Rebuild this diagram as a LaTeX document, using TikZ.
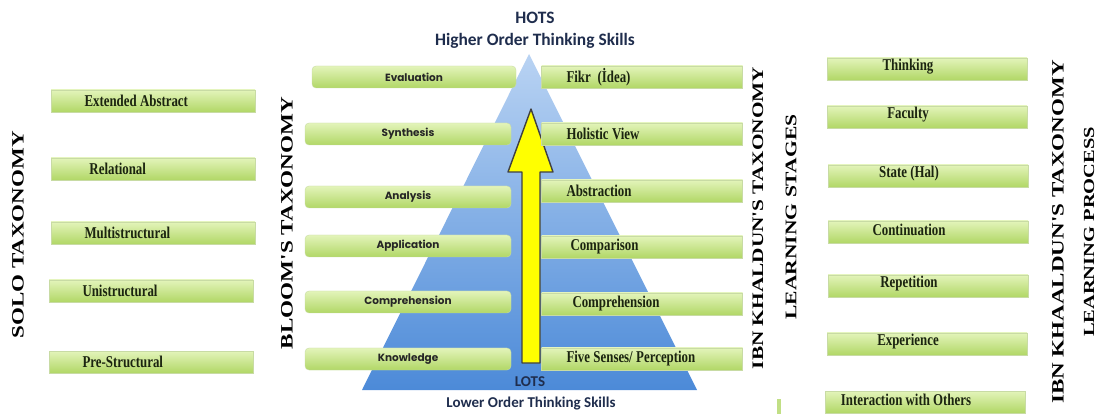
\documentclass[tikz,border=0pt]{standalone}
\usepackage{fontspec}
\setmainfont{Liberation Serif}
\newfontfamily\narrowserif[FakeStretch=0.78]{Liberation Serif}
\newfontfamily\tallserif[FakeStretch=1.33]{Liberation Serif}
\newfontfamily\calibri{Carlito}
\newfontfamily\gothic{Poppins}
\newcommand\boxserif{\narrowserif\bfseries\fontsize{16.5}{18}\selectfont}
\newcommand\tightspace{\spaceskip=3.4pt plus 1pt\relax\xspaceskip=3.4pt plus 1pt\relax}

\definecolor{boxtop}{HTML}{E3F4BA}
\definecolor{boxbot}{HTML}{B1D766}
\definecolor{boxline}{HTML}{C8DBA4}
\definecolor{boxtext}{HTML}{1B2410}
\definecolor{pyrtop}{HTML}{B9D3F3}
\definecolor{pyrbot}{HTML}{4C8AD8}
\definecolor{navy}{HTML}{1F2D4D}
\definecolor{arrowyellow}{HTML}{FFFF00}

\begin{document}
\begin{tikzpicture}[x=1pt, y=-1pt,
    greenbox/.style={rectangle, top color=boxtop, bottom color=boxbot, draw=boxline,
        line width=0.4pt, minimum height=22pt, inner sep=0pt, text=boxtext},
    serifbox/.style={greenbox, font=\boxserif, execute at begin node=\tightspace},
    solobox/.style={serifbox, minimum width=204pt, text width=137pt, align=left},
    stagebox/.style={serifbox, minimum width=201pt, text width=151pt, align=left},
    procbox/.style={greenbox, minimum width=200pt},
    proctext/.style={font=\boxserif, text=boxtext, xshift=-19pt, yshift=2pt, inner sep=0pt},
    bloombox/.style={greenbox, rounded corners=4pt, minimum width=206pt,
        font=\gothic\bfseries\fontsize{10.5}{12}\selectfont, text=black!85},
    vtitle/.style={rotate=90, inner sep=0pt, text=black,
        font=\tallserif\bfseries\fontsize{#1}{#1}\selectfont},
    hotstext/.style={font=\calibri\bfseries\fontsize{#1}{#1}\selectfont, text=navy, inner sep=0pt}]
    \useasboundingbox (0,0) rectangle (1096,414);

    % --- pyramid and the yellow arrow ---
    \shade[top color=pyrtop, bottom color=pyrbot] (529,54) -- (697,390) -- (362,390) -- cycle;
    \filldraw[fill=arrowyellow, draw=black!75, line width=1.4pt, line join=round]
        (522,363) -- (522,172) -- (508,172) -- (531,109) -- (553,172)
        -- (540,172) -- (540,363) -- cycle;

    \node[hotstext=17.4] (hots) at (535,18) {HOTS};
    \node[hotstext=17.4] (hotslong) at (535,41) {Higher Order Thinking Skills};
    \node[hotstext=15] (lots) at (530,382) {LOTS};
    \node[hotstext=15] (lotslong) at (531,404) {Lower Order Thinking Skills};

    % --- SOLO ---
    \node[vtitle=17.3] (solo) at (18,235) {SOLO TAXONOMY};
    \node[solobox] (extabs) at (153,101) {Extended Abstract};
    \node[solobox] (relat) at (153,169) {\hspace*{5pt}Relational};
    \node[solobox] (multi) at (153,233) {Multistructural};
    \node[solobox] (unist) at (151,291) {Unistructural};
    \node[solobox] (prestr) at (151,362) {Pre-Structural};

    % --- Bloom ---
    \node[vtitle=17.4] (bloom) at (287,223) {BLOOM'S TAXONOMY};
    \node[bloombox, minimum width=204pt] (evalu) at (414,77) {Evaluation};
    \node[bloombox] (synth) at (408,134) {Synthesis};
    \node[bloombox] (analy) at (408,197) {Analysis};
    \node[bloombox] (appl) at (408,246) {Application};
    \node[bloombox] (comprB) at (408,302) {Comprehension};
    \node[bloombox] (know) at (408,359) {Knowledge};

    % --- Ibn Khaldun, learning stages ---
    \node[stagebox] (fikr) at (642,77) {Fikr\ \ (İdea)};
    \node[stagebox] (holist) at (642,134) {Holistic View};
    \node[stagebox] (abstr) at (642,191) {Abstraction};
    \node[stagebox] (compar) at (642,247) {\hspace*{4pt}Comparison};
    \node[stagebox] (comprS) at (642,304) {\hspace*{6pt}Comprehension};
    \node[stagebox] (senses) at (642,359) {Five Senses/ Perception};
    \node[vtitle=16] (ibnstage) at (758,218) {IBN KHALDUN'S TAXONOMY};
    \node[vtitle=16.2] (stages) at (791,217) {LEARNING STAGES};
    \fill[boxbot!80] (777,399) rectangle (781,414);

    % --- Ibn Khaldun, learning process ---
    \node[procbox, label={[proctext]center:Thinking}] (think) at (927,69) {};
    \node[procbox, label={[proctext]center:Faculty}] (facul) at (927,117) {};
    \node[procbox, label={[proctext]center:State (Hal)}] (state) at (928,176) {};
    \node[procbox, label={[proctext]center:Continuation}] (contin) at (928,232) {};
    \node[procbox, label={[proctext]center:Repetition}] (repet) at (928,286) {};
    \node[procbox, label={[proctext]center:Experience}] (exper) at (927,344) {};
    \node[procbox, label={[proctext]center:Interaction with Others}] (interact) at (925,402) {};
    \node[vtitle=17.3] (ibnproc) at (1058,232) {IBN KHAALDUN'S TAXONOMY};
    \node[vtitle=15.4] (process) at (1089,232) {LEARNING PROCESS};
\end{tikzpicture}
\end{document}
